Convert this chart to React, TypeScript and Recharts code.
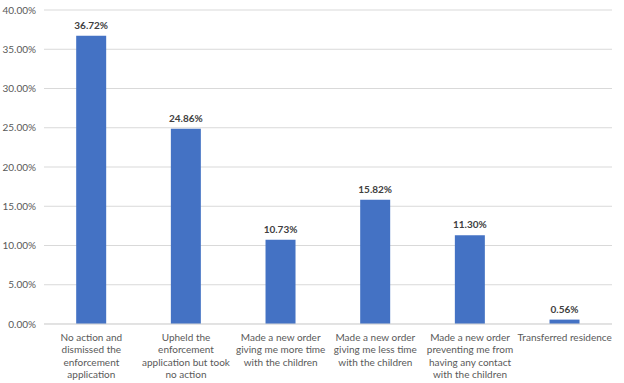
import React from "react";
import { BarChart, Bar, XAxis, YAxis, CartesianGrid, LabelList } from "recharts";

const categories = [
  "No action and\ndismissed the\nenforcement\napplication",
  "Upheld the\nenforcement\napplication but took\nno action",
  "Made a new order\ngiving me more time\nwith the children",
  "Made a new order\ngiving me less time\nwith the children",
  "Made a new order\npreventing me from\nhaving any contact\nwith the children",
  "Transferred residence",
];
const values = [36.72, 24.86, 10.73, 15.82, 11.3, 0.56];
const yTicks = [0, 5, 10, 15, 20, 25, 30, 35, 40];

const data = categories.map((c, i) => ({ name: c, value: values[i] }));

const FONT = "Lato, 'Noto Sans', sans-serif";

const XTick = (props: any) => {
  const { x, y, payload } = props;
  const lines = String(payload.value).split("\n");
  return (
    <g transform={`translate(${x},${y})`}>
      {lines.map((l: string, i: number) => (
        <text
          key={i}
          x={0}
          y={9 + i * 12.3}
          textAnchor="middle"
          fill="#595959"
          fontSize={10}
          fontFamily={FONT}
        >
          {l}
        </text>
      ))}
    </g>
  );
};

export default function App() {
  return (
    <div style={{ position: "absolute", left: 0, top: 0, background: "#fff" }}>
      <BarChart
        width={624}
        height={383}
        data={data}
        margin={{ top: 10, right: 12, bottom: 0, left: 0 }}
        barCategoryGap="34%"
      >
        <CartesianGrid vertical={false} stroke="#D9D9D9" />
        <XAxis
          dataKey="name"
          tick={<XTick />}
          tickLine={false}
          axisLine={{ stroke: "#D9D9D9" }}
          height={59}
          interval={0}
        />
        <YAxis
          width={44}
          domain={[0, 40]}
          ticks={yTicks}
          tickFormatter={(v: number) => `${v.toFixed(2)}%`}
          tickLine={false}
          axisLine={false}
          tick={{ fill: "#595959", fontSize: 10, fontFamily: FONT }}
        />
        <Bar dataKey="value" fill="#4472C4" isAnimationActive={false}>
          <LabelList
            dataKey="value"
            position="top"
            offset={7}
            formatter={(v: number) => `${v.toFixed(2)}%`}
            fill="#404040"
            fontSize={10}
            fontWeight="bold"
            fontFamily={FONT}
          />
        </Bar>
      </BarChart>
    </div>
  );
}
